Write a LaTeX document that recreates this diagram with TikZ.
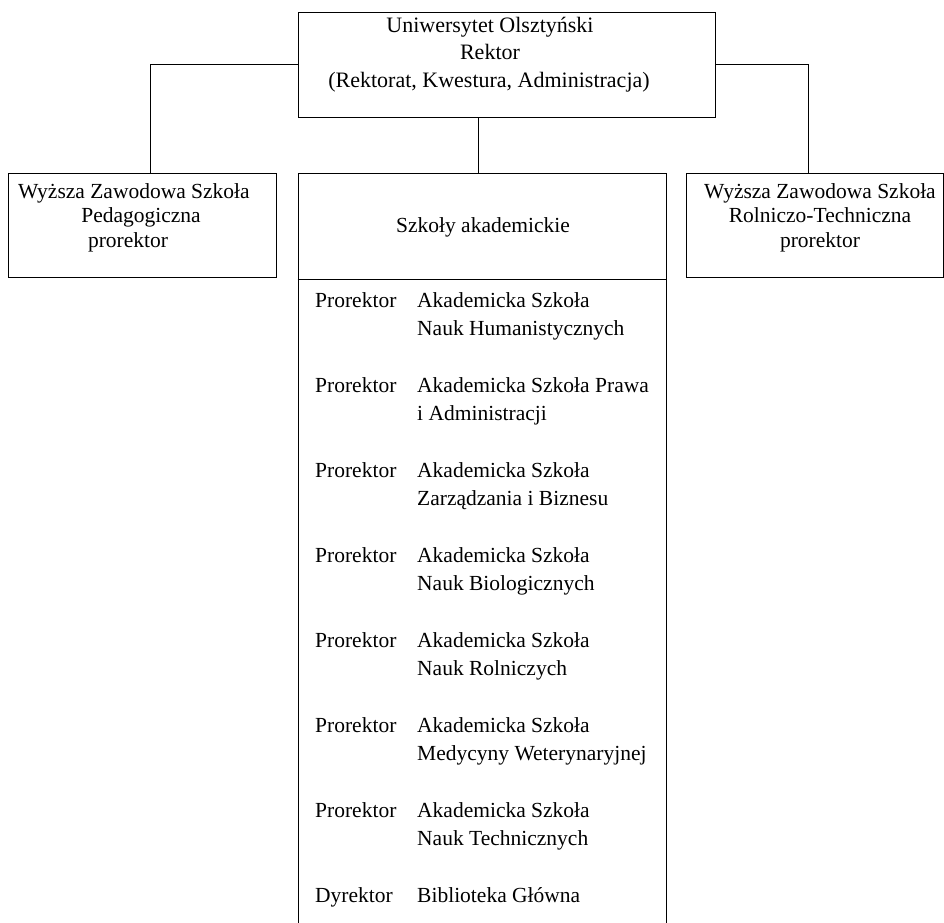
\documentclass[tikz,border=0pt]{standalone}
\usepackage{fontspec}
\setmainfont{Liberation Serif}
\begin{document}
\begin{tikzpicture}[x=1pt,y=-1pt,
  box/.style={draw,line width=1pt,rectangle,inner sep=0pt},
  txt/.style={font=\fontsize{21.5}{24.5}\selectfont,inner sep=0pt,align=center},
  rowtxt/.style={font=\fontsize{21.5}{28}\selectfont,inner sep=0pt,align=left,anchor=base west},
  conn/.style={line width=1pt}]
\useasboundingbox (0,0) rectangle (944,922);
% boxes
\node[box,minimum width=417pt,minimum height=105pt] (top) at (506.5,64.5) {};
\node[box,minimum width=268pt,minimum height=104pt] (left) at (142,225) {};
\node[box,minimum width=257pt,minimum height=104pt] (right) at (814.5,225) {};
\node[box,minimum width=368pt,minimum height=757pt] (ctr) at (482,551.5) {};
\coordinate (div) at (0,279);
\draw[conn] (ctr.west |- div) -- (ctr.east |- div);
% texts (anchor base = baseline of last line)
\node[txt,font=\fontsize{22}{27.5}\selectfont,anchor=base] (toptxt) at (490,87)
  {Uniwersytet Olsztyński\\Rektor\\\hspace*{-2pt}(Rektorat, Kwestura, Administracja)};
\node[txt,anchor=base] (lefttxt) at (134,247)
  {Wyższa Zawodowa Szkoła\\\hspace*{14pt}Pedagogiczna\\prorektor\hspace*{12pt}};
\node[txt,anchor=base] (righttxt) at (820,247)
  {Wyższa Zawodowa Szkoła\\Rolniczo-Techniczna\\prorektor};
\node[txt,anchor=base] (ctrtxt) at (483,232) {Szkoły akademickie};
% rows
\foreach \i/\off/\role/\school in {
  1/28/Prorektor/{Akademicka Szkoła\\Nauk Humanistycznych},
  2/28/Prorektor/{Akademicka Szkoła Prawa\\i Administracji},
  3/28/Prorektor/{Akademicka Szkoła\\Zarządzania i Biznesu},
  4/28/Prorektor/{Akademicka Szkoła\\Nauk Biologicznych},
  5/28/Prorektor/{Akademicka Szkoła\\Nauk Rolniczych},
  6/28/Prorektor/{Akademicka Szkoła\\Medycyny Weterynaryjnej},
  7/28/Prorektor/{Akademicka Szkoła\\Nauk Technicznych},
  8/0/Dyrektor/{Biblioteka Główna}}{
  \node[rowtxt] (r\i) at (315,{307+85*(\i-1)}) {\role};
  \node[rowtxt] (s\i) at (417,{307+85*(\i-1)+\off}) {\school};
}
% connectors
\coordinate (cx) at (478,0);
\draw[conn] (top.west) -| ([xshift=8pt]left.north);
\draw[conn] (top.east) -| ([xshift=-6.5pt]right.north);
\draw[conn] (top.south -| cx) -- (ctr.north -| cx);
\end{tikzpicture}
\end{document}
